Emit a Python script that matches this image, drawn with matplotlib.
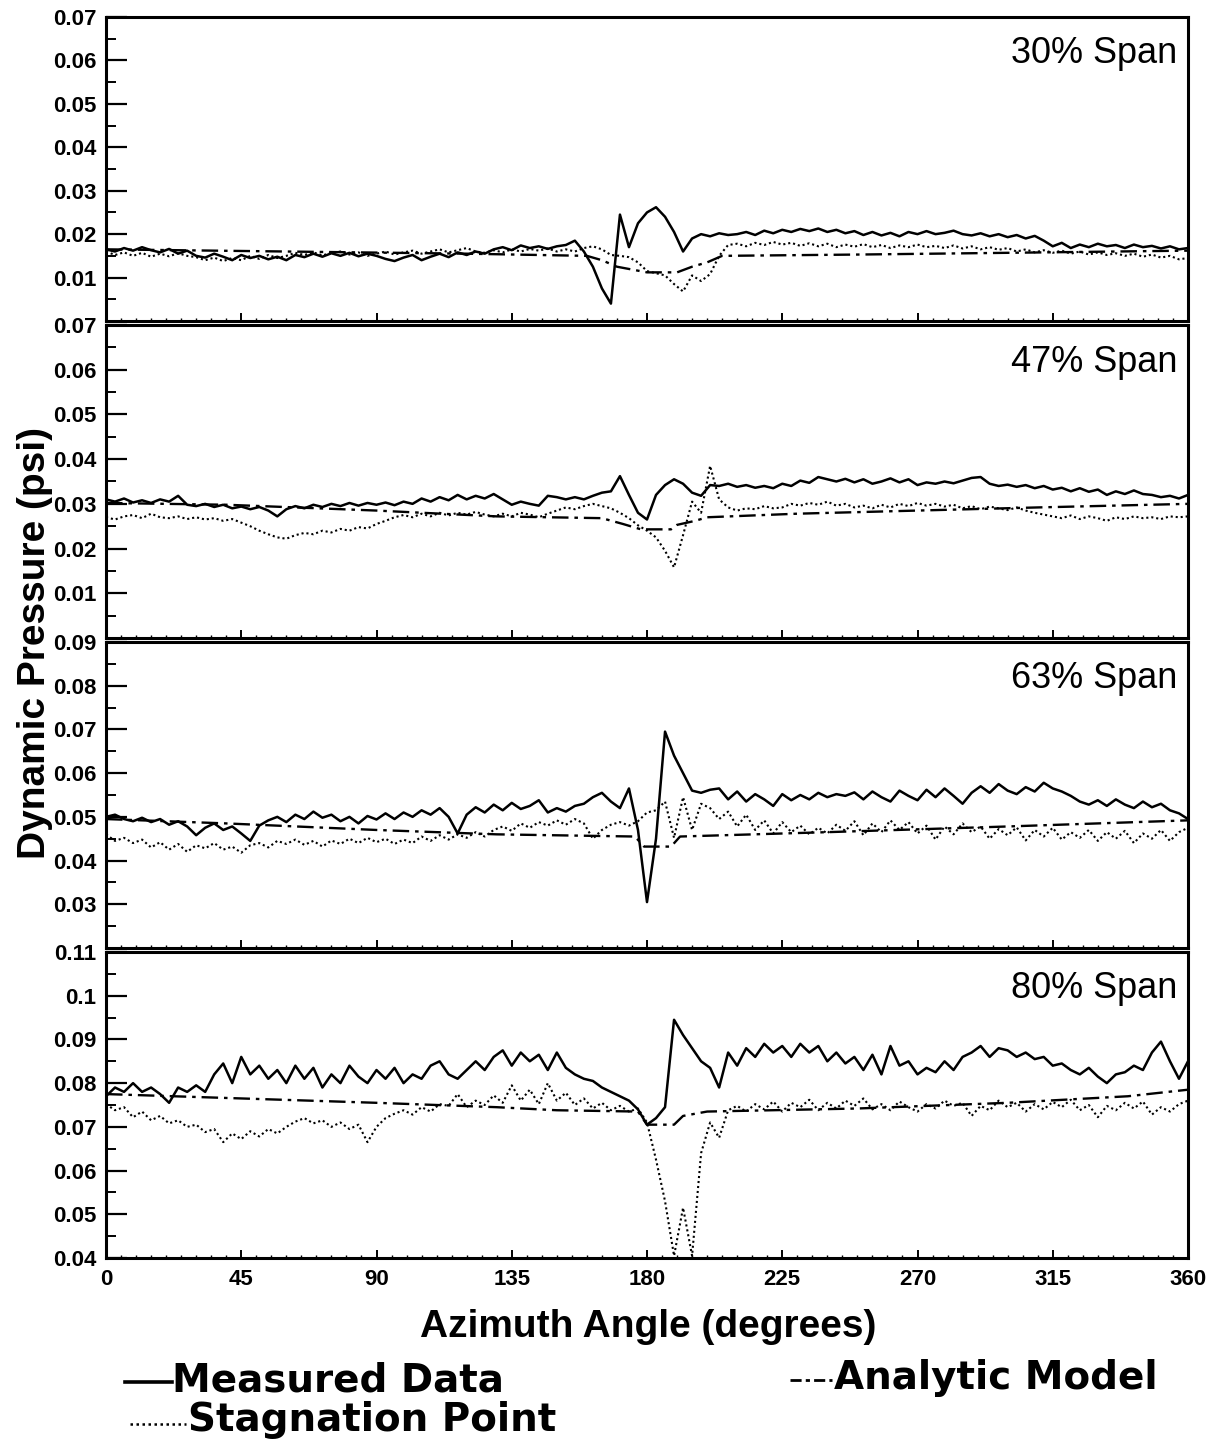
import numpy as np
import matplotlib
matplotlib.use("Agg")
import matplotlib.pyplot as plt
from matplotlib.lines import Line2D
from matplotlib.ticker import MultipleLocator, FormatStrFormatter

azimuth = list(range(0, 361, 3))

# ---- 30% span ----
meas_30 = [0.0165, 0.0160, 0.0168, 0.0162, 0.0170, 0.0163, 0.0158, 0.0166, 0.0155, 0.0162,
           0.0150, 0.0146, 0.0155, 0.0148, 0.0140, 0.0152, 0.0145, 0.0150, 0.0142, 0.0148,
           0.0140, 0.0152, 0.0147, 0.0155, 0.0148, 0.0156, 0.0150, 0.0157, 0.0149, 0.0155,
           0.0150, 0.0143, 0.0138, 0.0146, 0.0152, 0.0140, 0.0148, 0.0155, 0.0147, 0.0158,
           0.0152, 0.0160, 0.0155, 0.0165, 0.0170, 0.0163, 0.0174, 0.0168, 0.0172, 0.0166,
           0.0172, 0.0175, 0.0185, 0.0160, 0.0125, 0.0075, 0.0040, 0.0245, 0.0170, 0.0225,
           0.0250, 0.0262, 0.0240, 0.0205, 0.0160, 0.0190, 0.0200, 0.0195, 0.0202, 0.0198,
           0.0200, 0.0205, 0.0198, 0.0208, 0.0202, 0.0210, 0.0205, 0.0212, 0.0207, 0.0213,
           0.0205, 0.0210, 0.0202, 0.0207, 0.0198, 0.0205, 0.0197, 0.0203, 0.0195, 0.0205,
           0.0200, 0.0207, 0.0200, 0.0203, 0.0208, 0.0200, 0.0197, 0.0202, 0.0195, 0.0200,
           0.0193, 0.0198, 0.0190, 0.0196, 0.0185, 0.0172, 0.0180, 0.0168, 0.0176, 0.0170,
           0.0178, 0.0172, 0.0175, 0.0168, 0.0176, 0.0170, 0.0173, 0.0167, 0.0172, 0.0165,
           0.0168]
stag_30 = [0.0160, 0.0152, 0.0158, 0.0150, 0.0157, 0.0148, 0.0155, 0.0149, 0.0156, 0.0150,
           0.0147, 0.0140, 0.0146, 0.0138, 0.0145, 0.0140, 0.0150, 0.0143, 0.0152, 0.0145,
           0.0150, 0.0157, 0.0152, 0.0158, 0.0151, 0.0157, 0.0160, 0.0153, 0.0158, 0.0150,
           0.0155, 0.0160, 0.0153, 0.0158, 0.0162, 0.0155, 0.0160, 0.0165, 0.0158, 0.0163,
           0.0168, 0.0160, 0.0157, 0.0163, 0.0158, 0.0165, 0.0160, 0.0166, 0.0162, 0.0167,
           0.0160, 0.0165, 0.0160, 0.0168, 0.0172, 0.0165, 0.0152, 0.0150, 0.0147, 0.0135,
           0.0115, 0.0110, 0.0105, 0.0085, 0.0068, 0.0105, 0.0092, 0.0108, 0.0150, 0.0175,
           0.0178, 0.0172, 0.0180, 0.0175, 0.0182, 0.0176, 0.0180, 0.0173, 0.0179, 0.0172,
           0.0178, 0.0170, 0.0176, 0.0171, 0.0177, 0.0170, 0.0175, 0.0168, 0.0174, 0.0170,
           0.0176, 0.0170, 0.0173, 0.0168, 0.0174, 0.0167, 0.0172, 0.0165, 0.0170, 0.0164,
           0.0168, 0.0160, 0.0165, 0.0158, 0.0163, 0.0157, 0.0162, 0.0155, 0.0160, 0.0153,
           0.0158, 0.0152, 0.0156, 0.0150, 0.0155, 0.0148, 0.0153, 0.0146, 0.0150, 0.0142,
           0.0145]
model_az_30 = [0, 60, 120, 160, 165, 170, 180, 190, 195, 200, 205, 250, 300, 360]
model_30 = [0.0165, 0.0160, 0.0155, 0.0150, 0.0140, 0.0125, 0.0112, 0.0112, 0.0125, 0.0135,
            0.0150, 0.0153, 0.0157, 0.0162]

# ---- 47% span ----
meas_47 = [0.0310, 0.0305, 0.0312, 0.0303, 0.0308, 0.0302, 0.0310, 0.0305, 0.0318, 0.0298,
           0.0295, 0.0300, 0.0293, 0.0298, 0.0290, 0.0294, 0.0288, 0.0293, 0.0285, 0.0272,
           0.0288, 0.0295, 0.0290, 0.0298, 0.0293, 0.0300, 0.0295, 0.0302, 0.0296, 0.0302,
           0.0298, 0.0303, 0.0297, 0.0305, 0.0300, 0.0312, 0.0305, 0.0315, 0.0308, 0.0320,
           0.0310, 0.0318, 0.0312, 0.0322, 0.0310, 0.0298, 0.0305, 0.0300, 0.0296, 0.0318,
           0.0315, 0.0310, 0.0315, 0.0310, 0.0318, 0.0325, 0.0328, 0.0362, 0.0320, 0.0280,
           0.0265, 0.0320, 0.0342, 0.0355, 0.0345, 0.0325, 0.0318, 0.0342, 0.0340, 0.0345,
           0.0338, 0.0342, 0.0336, 0.0340, 0.0335, 0.0345, 0.0340, 0.0352, 0.0347, 0.0360,
           0.0355, 0.0350, 0.0356, 0.0348, 0.0355, 0.0345, 0.0350, 0.0357, 0.0348, 0.0355,
           0.0342, 0.0348, 0.0345, 0.0350, 0.0346, 0.0352, 0.0358, 0.0360, 0.0345, 0.0340,
           0.0343, 0.0338, 0.0342, 0.0335, 0.0340, 0.0332, 0.0336, 0.0328, 0.0335, 0.0327,
           0.0332, 0.0320, 0.0328, 0.0322, 0.0330, 0.0322, 0.0320, 0.0315, 0.0318, 0.0312,
           0.0320]
stag_47 = [0.0270, 0.0265, 0.0272, 0.0275, 0.0268, 0.0278, 0.0270, 0.0268, 0.0272, 0.0266,
           0.0270, 0.0265, 0.0268, 0.0262, 0.0266, 0.0258, 0.0250, 0.0240, 0.0232, 0.0225,
           0.0222, 0.0230, 0.0235, 0.0232, 0.0240, 0.0236, 0.0244, 0.0240, 0.0248, 0.0245,
           0.0255, 0.0262, 0.0270, 0.0275, 0.0270, 0.0278, 0.0272, 0.0280, 0.0274, 0.0280,
           0.0276, 0.0282, 0.0276, 0.0272, 0.0278, 0.0272, 0.0280, 0.0276, 0.0270, 0.0278,
           0.0285, 0.0292, 0.0288, 0.0295, 0.0300, 0.0295, 0.0290, 0.0280, 0.0268, 0.0252,
           0.0240, 0.0225, 0.0195, 0.0158, 0.0230, 0.0305, 0.0280, 0.0385, 0.0310, 0.0292,
           0.0285, 0.0290, 0.0288, 0.0295, 0.0290, 0.0292, 0.0300, 0.0296, 0.0302, 0.0298,
           0.0305, 0.0296, 0.0300, 0.0292, 0.0296, 0.0290, 0.0298, 0.0292, 0.0300, 0.0295,
           0.0302, 0.0296, 0.0300, 0.0294, 0.0298, 0.0290, 0.0295, 0.0288, 0.0294, 0.0290,
           0.0286, 0.0292, 0.0285, 0.0280, 0.0276, 0.0272, 0.0268, 0.0274, 0.0266, 0.0272,
           0.0268, 0.0262, 0.0270, 0.0266, 0.0272, 0.0268, 0.0270, 0.0266, 0.0272, 0.0270,
           0.0272]
model_az_47 = [0, 40, 90, 130, 165, 172, 178, 188, 190, 196, 200, 230, 270, 310, 360]
model_47 = [0.0302, 0.0298, 0.0285, 0.0272, 0.0268, 0.0255, 0.0243, 0.0243, 0.0253, 0.0262,
            0.0270, 0.0278, 0.0285, 0.0292, 0.0300]

# ---- 63% span ----
meas_63 = [0.0500, 0.0505, 0.0495, 0.0490, 0.0498, 0.0488, 0.0495, 0.0482, 0.0490, 0.0478,
           0.0458, 0.0475, 0.0485, 0.0470, 0.0478, 0.0462, 0.0445, 0.0480, 0.0492, 0.0500,
           0.0488, 0.0505, 0.0495, 0.0512, 0.0498, 0.0505, 0.0490, 0.0500, 0.0485, 0.0502,
           0.0494, 0.0508, 0.0495, 0.0510, 0.0500, 0.0515, 0.0505, 0.0520, 0.0500, 0.0462,
           0.0505, 0.0522, 0.0510, 0.0528, 0.0515, 0.0532, 0.0518, 0.0525, 0.0538, 0.0510,
           0.0520, 0.0512, 0.0525, 0.0530, 0.0545, 0.0555, 0.0535, 0.0520, 0.0565, 0.0470,
           0.0305, 0.0450, 0.0695, 0.0640, 0.0600, 0.0560, 0.0555, 0.0562, 0.0565, 0.0540,
           0.0558, 0.0535, 0.0552, 0.0540, 0.0525, 0.0552, 0.0538, 0.0550, 0.0540, 0.0555,
           0.0545, 0.0552, 0.0548, 0.0556, 0.0540, 0.0558, 0.0545, 0.0535, 0.0560, 0.0548,
           0.0538, 0.0562, 0.0545, 0.0565, 0.0548, 0.0530, 0.0555, 0.0570, 0.0555, 0.0575,
           0.0560, 0.0552, 0.0568, 0.0558, 0.0578, 0.0565, 0.0558, 0.0548, 0.0535, 0.0528,
           0.0538, 0.0525, 0.0540, 0.0528, 0.0520, 0.0535, 0.0522, 0.0530, 0.0515, 0.0508,
           0.0495]
stag_63 = [0.0460, 0.0445, 0.0452, 0.0440, 0.0448, 0.0430, 0.0442, 0.0425, 0.0438, 0.0420,
           0.0435, 0.0428, 0.0440, 0.0425, 0.0432, 0.0418, 0.0435, 0.0440, 0.0430, 0.0445,
           0.0438, 0.0448, 0.0436, 0.0445, 0.0432, 0.0446, 0.0438, 0.0450, 0.0440, 0.0452,
           0.0442, 0.0450, 0.0438, 0.0448, 0.0440, 0.0455, 0.0445, 0.0458, 0.0448, 0.0460,
           0.0452, 0.0465, 0.0455, 0.0470, 0.0478, 0.0468, 0.0485, 0.0475, 0.0488, 0.0480,
           0.0492, 0.0482, 0.0495, 0.0485, 0.0450, 0.0470, 0.0482, 0.0488, 0.0480, 0.0490,
           0.0510, 0.0515, 0.0535, 0.0452, 0.0545, 0.0470, 0.0530, 0.0520, 0.0495, 0.0512,
           0.0478, 0.0505, 0.0470, 0.0492, 0.0462, 0.0488, 0.0465, 0.0480, 0.0460, 0.0475,
           0.0462, 0.0482, 0.0468, 0.0490, 0.0458, 0.0485, 0.0465, 0.0492, 0.0470, 0.0488,
           0.0462, 0.0480, 0.0448, 0.0478, 0.0460, 0.0485, 0.0465, 0.0478, 0.0450, 0.0472,
           0.0458, 0.0476, 0.0446, 0.0470, 0.0455, 0.0475, 0.0448, 0.0465, 0.0452, 0.0470,
           0.0445, 0.0465, 0.0450, 0.0468, 0.0440, 0.0462, 0.0450, 0.0470, 0.0445, 0.0465,
           0.0475]
model_az_63 = [0, 40, 90, 130, 176, 179, 188, 191, 240, 300, 360]
model_63 = [0.0495, 0.0485, 0.0470, 0.0460, 0.0455, 0.0432, 0.0432, 0.0455, 0.0465, 0.0478,
            0.0492]

# ---- 80% span ----
meas_80 = [0.0770, 0.0790, 0.0780, 0.0800, 0.0780, 0.0790, 0.0775, 0.0755, 0.0790, 0.0780,
           0.0795, 0.0780, 0.0820, 0.0845, 0.0800, 0.0860, 0.0820, 0.0840, 0.0810, 0.0830,
           0.0800, 0.0840, 0.0810, 0.0835, 0.0790, 0.0820, 0.0800, 0.0840, 0.0815, 0.0800,
           0.0830, 0.0810, 0.0835, 0.0800, 0.0820, 0.0810, 0.0840, 0.0850, 0.0820, 0.0810,
           0.0830, 0.0850, 0.0830, 0.0860, 0.0875, 0.0840, 0.0870, 0.0850, 0.0865, 0.0830,
           0.0870, 0.0835, 0.0820, 0.0810, 0.0805, 0.0790, 0.0780, 0.0770, 0.0760, 0.0740,
           0.0705, 0.0720, 0.0745, 0.0945, 0.0910, 0.0880, 0.0850, 0.0835, 0.0790, 0.0870,
           0.0840, 0.0880, 0.0860, 0.0890, 0.0870, 0.0885, 0.0860, 0.0890, 0.0870, 0.0885,
           0.0850, 0.0870, 0.0845, 0.0860, 0.0830, 0.0865, 0.0820, 0.0885, 0.0840, 0.0850,
           0.0820, 0.0835, 0.0825, 0.0850, 0.0830, 0.0860, 0.0870, 0.0885, 0.0860, 0.0880,
           0.0875, 0.0860, 0.0870, 0.0855, 0.0860, 0.0840, 0.0845, 0.0830, 0.0820, 0.0835,
           0.0815, 0.0800, 0.0820, 0.0825, 0.0840, 0.0830, 0.0870, 0.0895, 0.0850, 0.0810,
           0.0850]
stag_80 = [0.0752, 0.0738, 0.0745, 0.0722, 0.0735, 0.0715, 0.0725, 0.0708, 0.0715, 0.0700,
           0.0705, 0.0688, 0.0695, 0.0665, 0.0685, 0.0672, 0.0690, 0.0678, 0.0695, 0.0685,
           0.0700, 0.0712, 0.0720, 0.0708, 0.0715, 0.0700, 0.0710, 0.0695, 0.0705, 0.0665,
           0.0700, 0.0720, 0.0730, 0.0738, 0.0728, 0.0745, 0.0735, 0.0752, 0.0748, 0.0775,
           0.0745, 0.0760, 0.0750, 0.0772, 0.0755, 0.0795, 0.0760, 0.0785, 0.0752, 0.0800,
           0.0760, 0.0778, 0.0750, 0.0765, 0.0742, 0.0755, 0.0738, 0.0748, 0.0735, 0.0742,
           0.0710, 0.0625, 0.0530, 0.0405, 0.0515, 0.0405, 0.0640, 0.0710, 0.0675, 0.0738,
           0.0748, 0.0735, 0.0752, 0.0740, 0.0758, 0.0735, 0.0755, 0.0745, 0.0762, 0.0738,
           0.0755, 0.0742, 0.0760, 0.0748, 0.0765, 0.0740, 0.0752, 0.0738, 0.0758, 0.0745,
           0.0735, 0.0752, 0.0742, 0.0760, 0.0748, 0.0755, 0.0725, 0.0748, 0.0738, 0.0760,
           0.0745, 0.0755, 0.0735, 0.0752, 0.0740, 0.0757, 0.0745, 0.0762, 0.0738, 0.0750,
           0.0722, 0.0748, 0.0738, 0.0755, 0.0742, 0.0758, 0.0728, 0.0745, 0.0735, 0.0752,
           0.0760]
model_az_80 = [0, 45, 90, 130, 150, 177, 180, 189, 192, 200, 250, 300, 340, 360]
model_80 = [0.0775, 0.0765, 0.0755, 0.0745, 0.0738, 0.0735, 0.0705, 0.0705, 0.0725, 0.0735,
            0.0742, 0.0755, 0.0770, 0.0785]

span_labels = ["30% Span", "47% Span", "63% Span", "80% Span"]
y_limits = [(0.0, 0.07), (0.0, 0.07), (0.02, 0.09), (0.04, 0.11)]
y_ticks = [[0.01, 0.02, 0.03, 0.04, 0.05, 0.06, 0.07],
           [0.01, 0.02, 0.03, 0.04, 0.05, 0.06, 0.07],
           [0.03, 0.04, 0.05, 0.06, 0.07, 0.08, 0.09],
           [0.04, 0.05, 0.06, 0.07, 0.08, 0.09, 0.10, 0.11]]
x_ticks = [0, 45, 90, 135, 180, 225, 270, 315, 360]

panels = [
    (meas_30, stag_30, model_az_30, model_30),
    (meas_47, stag_47, model_az_47, model_47),
    (meas_63, stag_63, model_az_63, model_63),
    (meas_80, stag_80, model_az_80, model_80),
]

W, H = 1213, 1451
fig = plt.figure(figsize=(W / 100, H / 100), dpi=100)

tick_font = dict(family=["Liberation Sans", "DejaVu Sans"], weight="bold", size=16)

# panel extents in pixels (top, bottom)
extents = [(17, 321), (325, 638), (642, 948), (952, 1258)]
x0, x1 = 106, 1188

solid_style = dict(color="black", lw=1.8, linestyle="-")
dot_style = dict(color="black", lw=1.5, linestyle=(0, (1, 1.4)))
dashdot_style = dict(color="black", lw=1.7, linestyle=(0, (7, 2.5, 1.5, 2.5)))

for i, (meas, stag, maz, model) in enumerate(panels):
    top, bot = extents[i]
    ax = fig.add_axes([x0 / W, 1 - bot / H, (x1 - x0) / W, (bot - top) / H])
    ax.plot(maz, model, **dashdot_style)
    ax.plot(azimuth, stag, **dot_style)
    ax.plot(azimuth, meas, **solid_style)

    ax.set_xlim(0, 360)
    ax.set_ylim(*y_limits[i])
    ax.set_yticks(y_ticks[i])
    ax.yaxis.set_minor_locator(MultipleLocator(0.005))
    ax.yaxis.set_major_formatter(FormatStrFormatter("%g"))
    ax.set_xticks(x_ticks)
    ax.xaxis.set_minor_locator(MultipleLocator(5))

    for s in ax.spines.values():
        s.set_linewidth(2.2)
    ax.tick_params(axis="y", which="major", direction="in", length=15, width=1.6, pad=7)
    ax.tick_params(axis="y", which="minor", direction="in", length=7, width=1.4)
    ax.tick_params(axis="x", which="major", direction="in", length=6, width=1.4, pad=8)
    ax.tick_params(axis="x", which="minor", direction="in", length=2.5, width=1.0)
    for lab in ax.get_yticklabels():
        lab.set(**tick_font)
    if i < 3:
        ax.tick_params(axis="x", labelbottom=False)
    else:
        for lab in ax.get_xticklabels():
            lab.set(**tick_font)

    ax.text(0.99, 0.88, span_labels[i], transform=ax.transAxes, ha="right", va="center",
            fontsize=26, family=["Liberation Sans", "DejaVu Sans"])

label_font = dict(family=["Liberation Sans", "DejaVu Sans"], weight="bold", size=28)
fig.text(35 / W, 1 - 643 / H, "Dynamic Pressure (psi)", rotation=90,
         ha="center", va="center", **label_font)
fig.text(648 / W, 1 - 1327 / H, "Azimuth Angle (degrees)",
         ha="center", va="center", **label_font)

# legend, written out underneath the plots
leg_font = dict(family=["DejaVu Sans"], weight="bold", size=28)
fig.add_artist(Line2D([125 / W, 172 / W], [1 - 1382 / H, 1 - 1382 / H],
                      transform=fig.transFigure, **dict(solid_style, lw=2.6)))
fig.text(172 / W, 1 - 1380 / H, "Measured Data", ha="left", va="center", **leg_font)
fig.add_artist(Line2D([130 / W, 186 / W], [1 - 1424 / H, 1 - 1424 / H],
                      transform=fig.transFigure, **dict(dot_style, lw=1.8)))
fig.text(188 / W, 1 - 1420 / H, "Stagnation Point", ha="left", va="center", **leg_font)
fig.add_artist(Line2D([790 / W, 832 / W], [1 - 1380 / H, 1 - 1380 / H],
                      transform=fig.transFigure,
                      **dict(dashdot_style, lw=2.0, linestyle=(0, (4, 1.5, 1.5, 1.5)))))
fig.text(834 / W, 1 - 1378 / H, "Analytic Model", ha="left", va="center", **leg_font)

fig.savefig("out.png", dpi=100)
